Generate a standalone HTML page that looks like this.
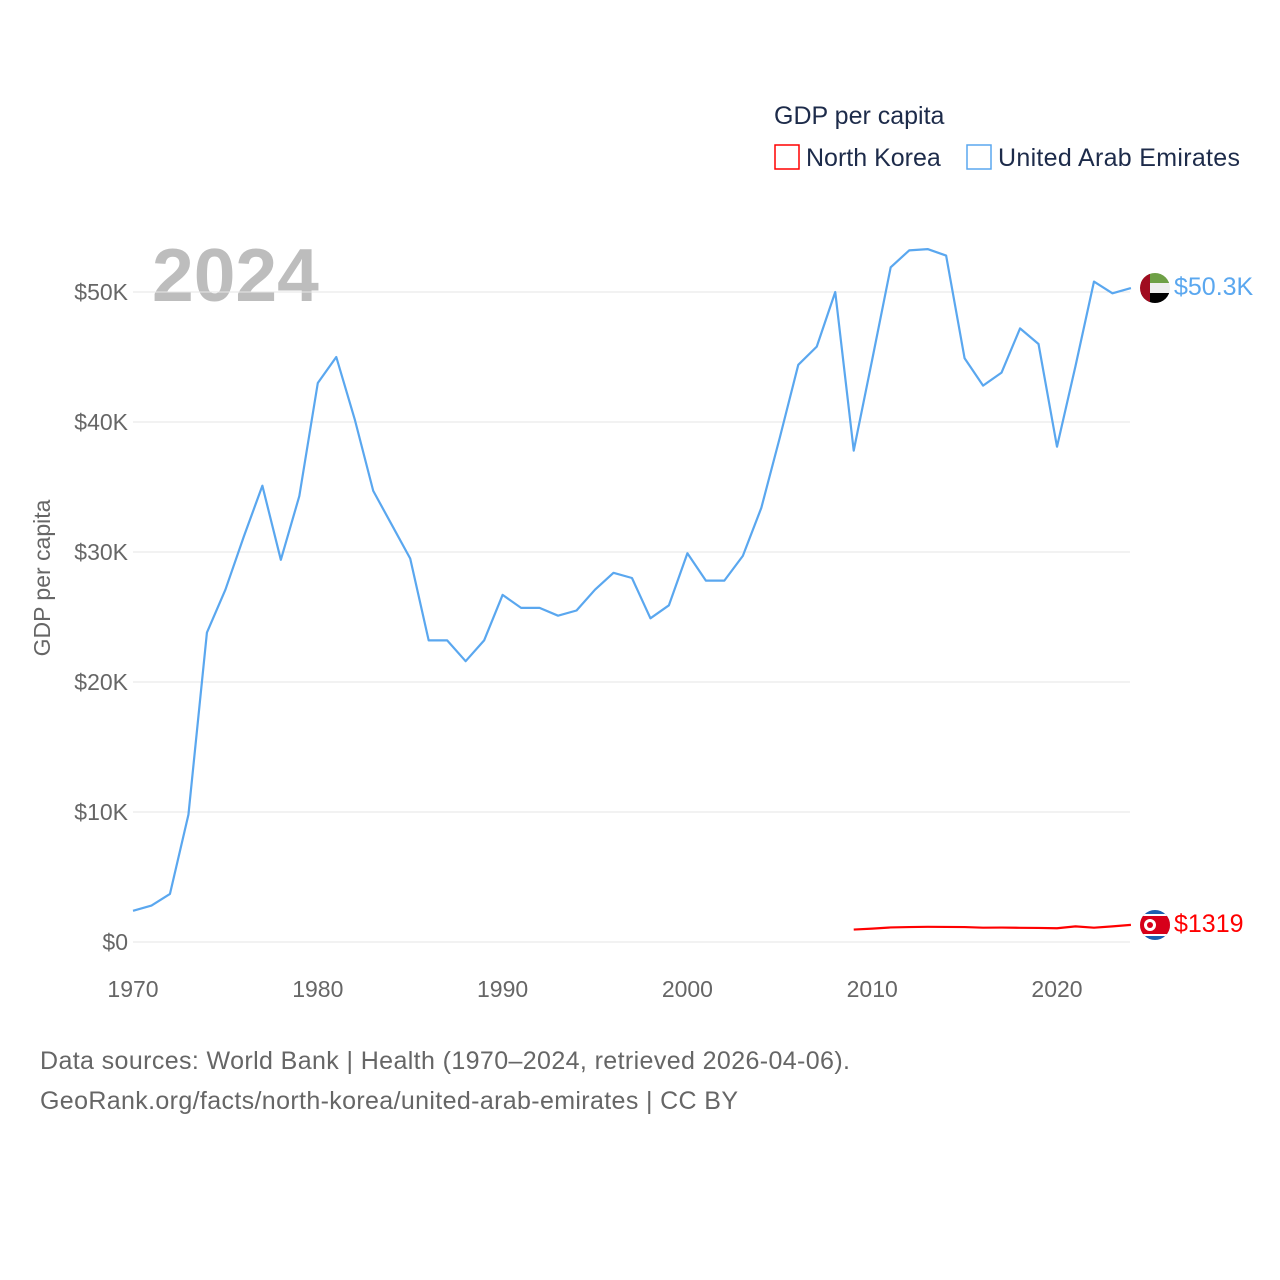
<!DOCTYPE html>
<html><head><meta charset="utf-8"><style>
html,body{margin:0;padding:0;background:#fff;}
svg{display:block;font-family:"Liberation Sans",sans-serif;}
</style></head><body>
<svg id="chart" width="1280" height="1280" viewBox="0 0 1280 1280">
<text x="774" y="124" font-size="25" fill="#1d2b4a">GDP per capita</text>
<g>
<rect x="775" y="145" width="24" height="24" fill="none" stroke="#f00" stroke-width="1.5"/>
<text x="806" y="166" font-size="25" fill="#1d2b4a">North Korea</text></g>
<g>
<rect x="967" y="145" width="24" height="24" fill="none" stroke="#5aa7ef" stroke-width="1.5"/>
<text x="998" y="166" font-size="25" fill="#1d2b4a" textLength="242">United Arab Emirates</text></g>
<text x="152" y="301" font-size="75" font-weight="bold" fill="#bdbdbd">2024</text>
<text transform="translate(50,578) rotate(-90)" text-anchor="middle" font-size="23" fill="#666">GDP per capita</text>
<g id="grid"></g><g id="xt"></g><g id="lines"></g>
<g>
<clipPath id="c1"><circle cx="1155" cy="288" r="15"/></clipPath>
<g clip-path="url(#c1)"><rect x="1140" y="273" width="30" height="10" fill="#6ea046"/><rect x="1140" y="283" width="30" height="10" fill="#eee"/><rect x="1140" y="293" width="30" height="10" fill="#000"/><rect x="1140" y="273" width="10" height="30" fill="#a00c20"/></g></g>
<text x="1174" y="295" font-size="25" fill="#5aa7ef">$50.3K</text>
<g>
<clipPath id="c2"><circle cx="1155" cy="925" r="15"/></clipPath>
<g clip-path="url(#c2)"><rect x="1140" y="910" width="30" height="30" fill="#1b5fb0"/><rect x="1140" y="914" width="30" height="22" fill="#fff"/><rect x="1140" y="916" width="30" height="18" fill="#d7001a"/><circle cx="1150" cy="925" r="6" fill="#fff"/><circle cx="1150" cy="925" r="3" fill="#d7001a"/></g></g>
<text x="1174" y="932" font-size="25" fill="#f00">$1319</text>
<text x="40" y="1069" font-size="25" fill="#666" textLength="810">Data sources: World Bank | Health (1970–2024, retrieved 2026-04-06).</text>
<text x="40" y="1109" font-size="25" fill="#666" textLength="698">GeoRank.org/facts/north-korea/united-arab-emirates | CC BY</text>
</svg>
<script>
const uaeYears=[];for(let y=1970;y<=2024;y++)uaeYears.push(y);
const uaeValues=[2.4,2.8,3.7,9.8,23.8,27.1,31.2,35.1,29.4,34.3,43.0,45.0,40.2,34.7,32.1,29.5,23.2,23.2,21.6,23.2,26.7,25.7,25.7,25.1,25.5,27.1,28.4,28.0,24.9,25.9,29.9,27.8,27.8,29.7,33.4,38.8,44.4,45.8,50.0,37.8,44.8,51.9,53.2,53.3,52.8,44.9,42.8,43.8,47.2,46.0,38.1,44.3,50.8,49.9,50.3];
const nkYears=[2009,2010,2011,2012,2013,2014,2015,2016,2017,2018,2019,2020,2021,2022,2023,2024];
const nkValues=[0.955,1.03,1.12,1.15,1.17,1.16,1.15,1.10,1.11,1.09,1.08,1.06,1.20,1.10,1.20,1.319];
const yTicks=[0,10,20,30,40,50];
const xTicks=[1970,1980,1990,2000,2010,2020];
const X=y=>133+(y-1970)*18.48, Y=v=>942-v*13;
const NS="http://www.w3.org/2000/svg";
function mk(t,a,p){const e=document.createElementNS(NS,t);for(const k in a)e.setAttribute(k,a[k]);p.appendChild(e);return e;}
const g=document.getElementById('grid');
yTicks.forEach(v=>{
 const l=mk('line',{x1:133,x2:1130,y1:Y(v),y2:Y(v),stroke:'#e6e6e6','stroke-width':1},g);
 
 
 const t=mk('text',{x:128,y:Y(v)+8,'text-anchor':'end','font-size':23,fill:'#666'},g);
 t.textContent=v===0?'$0':'$'+v+'K';
 
 
});
const xt=document.getElementById('xt');
xTicks.forEach(v=>{
 const t=mk('text',{x:X(v),y:997,'text-anchor':'middle','font-size':23,fill:'#666'},xt);
 t.textContent=v;
 
 
});
const L=document.getElementById('lines');
const p1=mk('polyline',{points:uaeYears.map((y,i)=>X(y)+','+Y(uaeValues[i])).join(' '),fill:'none',stroke:'#5aa7ef','stroke-width':2.2,'stroke-linejoin':'round'},L);


const p2=mk('polyline',{points:nkYears.map((y,i)=>X(y)+','+Y(nkValues[i])).join(' '),fill:'none',stroke:'#f00','stroke-width':2.2,'stroke-linejoin':'round'},L);


</script>
</body></html>
